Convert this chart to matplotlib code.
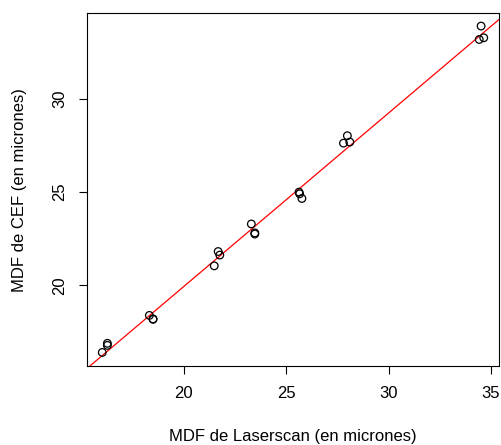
import numpy as np
import matplotlib
matplotlib.use("Agg")
import matplotlib.pyplot as plt

plt.rcParams['font.family'] = ['Liberation Sans', 'DejaVu Sans']

laserscan = [16.02, 16.27, 16.27, 18.32, 18.50, 18.50, 21.49, 21.68, 21.76,
             23.30, 23.47, 23.47, 25.63, 25.66, 25.77, 27.80, 27.99, 28.11,
             34.43, 34.52, 34.65]
cef = [16.39, 16.88, 16.77, 18.38, 18.19, 18.17, 21.04, 21.81, 21.62,
       23.29, 22.81, 22.75, 25.00, 24.91, 24.66, 27.63, 28.03, 27.69,
       33.20, 33.92, 33.29]
xticks = [20, 25, 30, 35]
yticks = [20, 25, 30]

x = np.array(laserscan)
y = np.array(cef)
slope, intercept = np.polyfit(x, y, 1)

W, H = 501, 445
fig = plt.figure(figsize=(W/100, H/100), dpi=100)
ax = fig.add_axes([87/W, (H-365.5)/H, (499-87)/W, (365.5-13)/H])
ax.scatter(x, y, s=30, facecolors='none', edgecolors='black', linewidths=0.9, zorder=3)

xr = x.max() - x.min()
yr = y.max() - y.min()
xlim = (x.min() - 0.04*xr, x.max() + 0.04*xr)
ax.set_ylim(y.min() - 0.04*yr, y.max() + 0.04*yr)
xl = np.array(xlim)
ax.plot(xl, intercept + slope*xl, color='red', lw=0.9, zorder=2)
ax.set_xlim(*xlim)

ax.set_xticks(xticks)
ax.set_yticks(yticks)
ax.tick_params(direction='out', length=5.5, width=0.8, labelsize=12, pad=9)
for lab in ax.get_yticklabels():
    lab.set_rotation(90)
    lab.set_va('center')
for s in ax.spines.values():
    s.set_linewidth(0.8)

fig.text(293/W, 1 - 437/H, 'MDF de Laserscan (en micrones)', fontsize=12,
         ha='center', va='center')
fig.text(20/W, 1 - 190/H, 'MDF de CEF (en micrones)', fontsize=12,
         ha='center', va='center', rotation=90)

fig.savefig('out.png', dpi=100)
